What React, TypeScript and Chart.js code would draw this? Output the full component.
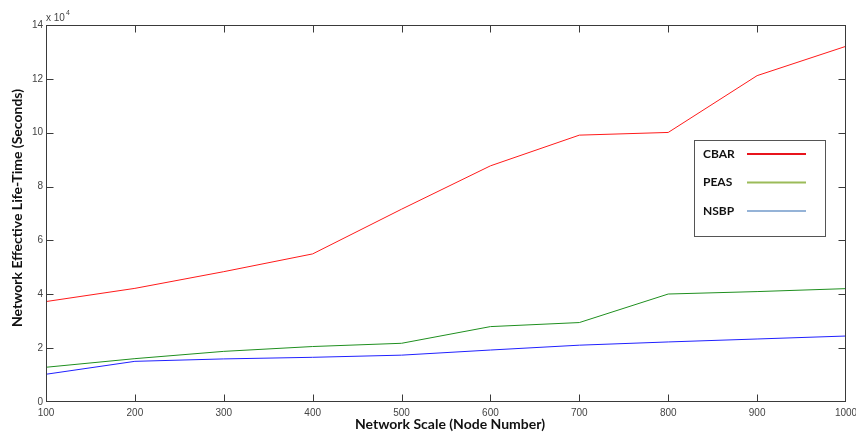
import React, { useEffect, useRef } from "react";
import { Chart, registerables } from "chart.js";

Chart.register(...registerables);

const nodeCounts = [100, 200, 300, 400, 500, 600, 700, 800, 900, 1000];
const cbar = [37300, 42200, 48400, 55000, 71600, 87700, 99100, 100100, 121200, 132100];
const peas = [12900, 16100, 18800, 20600, 21800, 28000, 29500, 40100, 41000, 42100];
const nsbp = [10300, 15100, 16000, 16600, 17400, 19300, 21100, 22300, 23400, 24500];
const seriesNames = ["CBAR", "PEAS", "NSBP"];
const lineColors = ["#ff1a1a", "#1f8f1f", "#2020ff"];
const legendColors = ["#e8141c", "#9bbb59", "#95b3d7"];
const xTitle = "Network Scale (Node Number)";
const yTitle = "Network Effective Life-Time (Seconds)";

const framePlugin = {
  id: "frame",
  afterDraw(chart: any) {
    const ctx = chart.ctx as CanvasRenderingContext2D;
    const { left, right, top, bottom } = chart.chartArea;
    const xs = chart.scales.x;
    const ys = chart.scales.y;
    const L = Math.round(left) + 0.5;
    const R = Math.round(right) - 0.5;
    const T = Math.round(top) + 0.5;
    const B = Math.round(bottom) - 0.5;
    ctx.save();
    ctx.strokeStyle = "#3a3a3a";
    ctx.lineWidth = 1;
    ctx.strokeRect(L, T, R - L, B - T);
    const tl = 7;
    ctx.beginPath();
    xs.ticks.forEach((t: any) => {
      const px = Math.round(xs.getPixelForValue(t.value)) + 0.5;
      if (px <= L + 1 || px >= R - 1) return;
      ctx.moveTo(px, B);
      ctx.lineTo(px, B - tl);
      ctx.moveTo(px, T);
      ctx.lineTo(px, T + tl);
    });
    ys.ticks.forEach((t: any) => {
      const py = Math.round(ys.getPixelForValue(t.value)) + 0.5;
      if (py <= T + 1 || py >= B - 1) return;
      ctx.moveTo(L, py);
      ctx.lineTo(L + tl, py);
      ctx.moveTo(R, py);
      ctx.lineTo(R - tl, py);
    });
    ctx.stroke();

    // exponent label
    ctx.fillStyle = "#444";
    ctx.font = "10px 'Liberation Sans', Arial, sans-serif";
    ctx.textBaseline = "alphabetic";
    ctx.textAlign = "left";
    ctx.fillText("x 10", left, top - 4);
    ctx.font = "7px 'Liberation Sans', Arial, sans-serif";
    ctx.fillText("4", left + 20, top - 10);

    // axis titles
    ctx.fillStyle = "#111";
    ctx.font = "bold 14px Lato, 'Open Sans', sans-serif";
    ctx.textAlign = "center";
    ctx.textBaseline = "middle";
    ctx.fillText(xTitle, 450, 424);
    ctx.save();
    ctx.translate(17, 208);
    ctx.rotate(-Math.PI / 2);
    ctx.fillText(yTitle, 0, 0);
    ctx.restore();

    // legend
    ctx.fillStyle = "#ffffff";
    ctx.fillRect(694, 140, 131, 96);
    ctx.strokeStyle = "#555";
    ctx.strokeRect(694.5, 140.5, 131, 96);
    const rows = [154, 182.5, 211];
    ctx.font = "bold 12px Lato, 'Open Sans', sans-serif";
    ctx.textAlign = "left";
    ctx.textBaseline = "middle";
    seriesNames.forEach((name, i) => {
      ctx.fillStyle = "#111";
      ctx.fillText(name, 703, rows[i]);
      ctx.strokeStyle = legendColors[i];
      ctx.lineWidth = 2;
      ctx.beginPath();
      ctx.moveTo(747, rows[i]);
      ctx.lineTo(806, rows[i]);
      ctx.stroke();
    });
    ctx.restore();
  },
};

export default function App() {
  const ref = useRef<HTMLCanvasElement | null>(null);
  useEffect(() => {
    document.body.style.margin = "0";
    const canvas = ref.current!;
    const seriesData = [cbar, peas, nsbp];
    const chart = new Chart(canvas, {
      type: "line",
      data: {
        datasets: seriesNames.map((name, i) => ({
          label: name,
          data: nodeCounts.map((x, j) => ({ x, y: seriesData[i][j] })),
          borderColor: lineColors[i],
          borderWidth: 1,
          pointRadius: 0,
          tension: 0,
          fill: false,
        })),
      },
      options: {
        responsive: false,
        animation: false,
        devicePixelRatio: 1,
        layout: { padding: { top: 25, right: 10, left: 0, bottom: 0 } },
        plugins: { legend: { display: false }, tooltip: { enabled: false } },
        scales: {
          x: {
            type: "linear",
            min: 100,
            max: 1000,
            grid: { display: false, drawTicks: false },
            border: { display: false },
            ticks: {
              stepSize: 100,
              padding: 5,
              color: "#444",
              font: { family: "'Liberation Sans', Arial, sans-serif", size: 10 },
              maxRotation: 0,
              autoSkip: false,
              callback: (v: any) => String(v),
            },
            afterFit: (s: any) => {
              s.height = 33;
              s.paddingLeft = 0;
              s.paddingRight = 0;
            },
          },
          y: {
            min: 0,
            max: 140000,
            grid: { display: false, drawTicks: false },
            border: { display: false },
            ticks: {
              stepSize: 20000,
              padding: 3,
              color: "#444",
              font: { family: "'Liberation Sans', Arial, sans-serif", size: 10 },
              callback: (v: any) => String(Number(v) / 10000),
            },
            afterFit: (s: any) => {
              s.width = 46;
              s.paddingTop = 0;
              s.paddingBottom = 0;
            },
          },
        },
      },
      plugins: [framePlugin],
    });
    return () => chart.destroy();
  }, []);
  return <canvas ref={ref} width={856} height={435} style={{ display: "block" }} />;
}
